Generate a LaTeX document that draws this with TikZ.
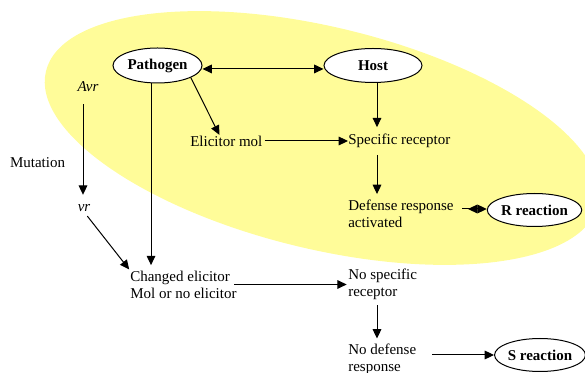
\documentclass[tikz,border=0pt]{standalone}
\usepackage{fontspec}
\setmainfont{Liberation Serif}
\usetikzlibrary{arrows.meta,calc,shapes.geometric}
\definecolor{yfill}{RGB}{255,252,153}
\tikzset{
  txt/.style={inner sep=0pt, font=\rmfamily\fontsize{11.25pt}{12.75pt}\selectfont, align=left},
  ell/.style={ellipse, draw=black, line width=0.75pt, fill=white, inner sep=0pt, font=\rmfamily\fontsize{11.25pt}{12.75pt}\selectfont\bfseries},
  conn/.style={line width=0.75pt, draw=black},
  arr/.style={conn, -{Triangle[length=7pt,width=6.5pt]}},
  arrb/.style={conn, {Triangle[length=7pt,width=6.5pt]}-{Triangle[length=7pt,width=6.5pt]}}
}
\begin{document}
\begin{tikzpicture}[x=0.75pt,y=-0.75pt]
\useasboundingbox (0,0) rectangle (585,373);
\clip (0,0) rectangle (585,373);
% yellow region
\fill[yfill, rotate around={-13.6:(322,138)}] (322,138) ellipse [x radius=284, y radius=111];

% nodes
\node[ell, minimum width=66.75pt, minimum height=26.25pt] (path) at (157.5,65.5) {Pathogen};
\node[ell, minimum width=73.5pt, minimum height=25.5pt] (host) at (373,65.5) {Host};
\node[ell, minimum width=68.25pt, minimum height=24.75pt] (R) at (534.5,210) {R reaction};
\node[ell, minimum width=64.5pt, minimum height=24.75pt] (S) at (540,355) {S reaction};

\node[txt, anchor=west] (elic) at (190,141) {Elicitor mol};
\node[txt, anchor=west] (spec) at (348,141) {Specific receptor};
\node[txt, anchor=west] (def) at (348,213.5) {Defense response\\activated};
\node[txt, anchor=west] (chg) at (130,284.5) {Changed elicitor\\Mol or no elicitor};
\node[txt, anchor=west] (nospec) at (348,284.5) {No specific\\receptor};
\node[txt, anchor=west] (nodef) at (348,359.5) {No defense\\response};
\node[txt] (avr) at (88,87) {\itshape Avr};
\node[txt] (vr) at (84,208) {\itshape vr};
\node[txt] (mut) at (37.5,163) {Mutation};

\coordinate (vx) at (377,0);
\coordinate (ax) at (83,0);
\coordinate (dr) at (462,209);

% connectors
\draw[arrb] ([yshift=-2.6pt]path.east) -- ([yshift=-2.6pt]host.west);
\draw[arr, shorten >=0.5pt] (path.-20) -- ([xshift=-5pt]elic.north);
\draw[arr, shorten >=4pt] (path.-110) -- (path.-110 |- chg.north);
\draw[arr, shorten <=1.5pt] (elic.east) -- (spec.west);
\draw[arr, shorten >=5pt] (host.south -| vx) -- (spec.north -| vx);
\draw[arr, shorten <=5pt, shorten >=4pt] (spec.south -| vx) -- (def.north -| vx);
\draw[conn] (dr) -- ($(dr)+(8,0)$);
\draw[arrb] ($(dr)+(6,0)$) -- (R.west |- dr);
\draw[arr, shorten <=9pt, shorten >=7pt] (avr.south -| ax) -- (vr.north -| ax);
\draw[arr, shorten <=4pt, shorten >=1pt] (vr.south) -- (chg.north west);
\draw[arr, shorten <=-2pt, shorten >=1pt] (chg.east) -- (nospec.west);
\draw[arr, shorten <=4pt, shorten >=4pt] (nospec.south -| vx) -- (nodef.north -| vx);
\draw[arr, shorten <=12pt] (nodef.east |- S.west) -- (S.west);
\end{tikzpicture}
\end{document}
